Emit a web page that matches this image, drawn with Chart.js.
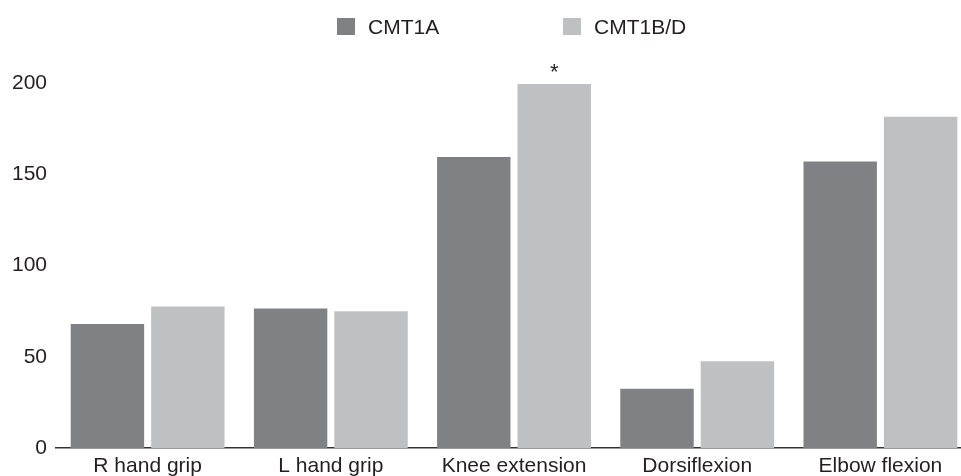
<!DOCTYPE html>
<html>
<head>
<meta charset="utf-8">
<script src="https://cdn.jsdelivr.net/npm/chart.js@4/dist/chart.umd.min.js"></script>
<style>
    html, body { margin: 0; padding: 0; background: #fff; overflow: hidden; }
    #wrap { position: relative; width: 961px; height: 476px; overflow: hidden; }
    #chart { position: absolute; left: 0; top: 0; }
    .legend-item {
        position: absolute; top: 18px; height: 17px;
        font: 21px "Liberation Sans", Arial, sans-serif; color: #231f20;
        line-height: 17px; white-space: nowrap;
    }
    .legend-item span.box {
        display: inline-block; width: 18px; height: 17px;
        vertical-align: top; margin-right: 13px;
    }
</style>
</head>
<body>
<div id="wrap">
    <canvas id="chart" width="972" height="485" style="width:972px;height:485px"></canvas>
    <div class="legend-item" style="left:337px"><span class="box" style="background:#808184"></span>CMT1A</div>
    <div class="legend-item" style="left:563px"><span class="box" style="background:#bfc0c2"></span>CMT1B/D</div>
</div>
<script>
const categories = ["R hand grip", "L hand grip", "Knee extension", "Dorsiflexion", "Elbow flexion"];
const cmt1a = [68, 76.5, 159.5, 32.5, 157];
const cmt1bd = [77.5, 75, 199.5, 47.5, 181.5];
const cmt1bdMarks = ["", "", "*", "", ""]; // significance stars
const yTicks = [0, 50, 100, 150, 200];

const FONT = "'Liberation Sans', Arial, sans-serif";
const INK = "#231f20";

// writes the * above the marked bars
const starPlugin = {
    id: "stars",
    afterDatasetsDraw(chart) {
        const ctx = chart.ctx;
        const meta = chart.getDatasetMeta(1);
        ctx.save();
        ctx.font = "22px " + FONT;
        ctx.fillStyle = INK;
        ctx.textAlign = "center";
        ctx.textBaseline = "alphabetic";
        meta.data.forEach((bar, i) => {
            if (cmt1bdMarks[i]) ctx.fillText(cmt1bdMarks[i], bar.x, bar.y - 5);
        });
        ctx.restore();
    }
};

new Chart(document.getElementById("chart"), {
    type: "bar",
    data: {
        labels: categories,
        datasets: [
            { label: "CMT1A", data: cmt1a, backgroundColor: "#808184" },
            { label: "CMT1B/D", data: cmt1bd, backgroundColor: "#bfc0c2" }
        ]
    },
    options: {
        responsive: false,
        animation: false,
        categoryPercentage: 0.878,
        barPercentage: 0.913,
        layout: { padding: { left: 3, top: 83, right: 0, bottom: 0 } },
        plugins: {
            legend: { display: false },
            tooltip: { enabled: false }
        },
        scales: {
            x: {
                grid: { display: false, drawTicks: false },
                border: { display: true, color: "#333", width: 1.5 },
                ticks: {
                    padding: 8,
                    color: INK,
                    maxRotation: 0,
                    font: { family: FONT, size: 21, lineHeight: 1 }
                }
            },
            y: {
                min: 0,
                max: 200,
                afterBuildTicks: axis => { axis.ticks = yTicks.map(v => ({ value: v })); },
                grid: { display: false, drawTicks: false },
                border: { display: false },
                ticks: {
                    padding: 9,
                    color: INK,
                    font: { family: FONT, size: 21, lineHeight: 1 }
                }
            }
        }
    },
    plugins: [starPlugin]
});
</script>
</body>
</html>
